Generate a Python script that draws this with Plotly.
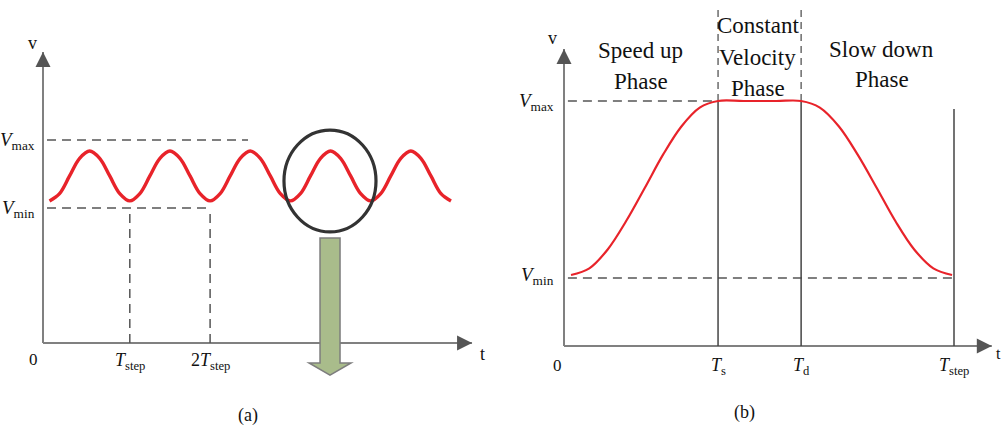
import plotly.graph_objects as go

W, H = 1003, 431

# ---------------- data: panel (a) ----------------
# time in units of T_step, velocity in units of V_max
a_t = [0.000, 0.125, 0.250, 0.375, 0.500, 0.625, 0.750, 0.875,
       1.000, 1.125, 1.250, 1.375, 1.500, 1.625, 1.750, 1.875,
       2.000, 2.125, 2.250, 2.375, 2.500, 2.625, 2.750, 2.875,
       3.000, 3.125, 3.250, 3.375, 3.500, 3.625, 3.750, 3.875,
       4.000, 4.125, 4.250, 4.375, 4.500, 4.625, 4.750, 4.875,
       5.000]
a_v = [0.700, 0.736, 0.823, 0.910, 0.946, 0.910, 0.823, 0.736,
       0.700, 0.736, 0.823, 0.910, 0.946, 0.910, 0.823, 0.736,
       0.700, 0.736, 0.823, 0.910, 0.946, 0.910, 0.823, 0.736,
       0.700, 0.736, 0.823, 0.910, 0.946, 0.910, 0.823, 0.736,
       0.700, 0.736, 0.823, 0.910, 0.946, 0.910, 0.823, 0.736,
       0.700]
a_vmax = 1.0
a_vmin = 0.665
a_tick_t = [1, 2]
a_tick_text = ["<i>T</i><sub>step</sub>", "2<i>T</i><sub>step</sub>"]
a_vmax_text = "<i>V</i><sub>max</sub>"
a_vmin_text = "<i>V</i><sub>min</sub>"

# ---------------- data: panel (b) ----------------
# time in units of T_step, velocity in units of V_max
b_t = [0.018, 0.065, 0.112, 0.159, 0.207, 0.254, 0.301, 0.348, 0.395,
       0.460, 0.545,
       0.608, 0.656, 0.705, 0.753, 0.802, 0.850, 0.898, 0.947, 0.995]
b_v = [0.290, 0.317, 0.394, 0.509, 0.645, 0.781, 0.896, 0.973, 1.000,
       1.000, 1.000,
       1.000, 0.973, 0.896, 0.781, 0.645, 0.509, 0.394, 0.317, 0.290]
b_vmax = 1.0
b_vmin = 0.278
b_ts, b_td, b_tstep = 0.395, 0.608, 1.0
b_tick_t = [b_ts, b_td, b_tstep]
b_tick_text = ["<i>T</i><sub>s</sub>", "<i>T</i><sub>d</sub>", "<i>T</i><sub>step</sub>"]
b_phase_lines = [
    (0.197, ["Speed up", "Phase"], [1.208, 1.078]),
    (0.497, ["Constant", "Velocity", "Phase"], [1.310, 1.176, 1.053]),
    (0.815, ["Slow down", "Phase"], [1.212, 1.086]),
]

# ---------------- layout geometry (pixel anchors) ----------------
SPLIT = 500
A_X0, A_XS, A_Y0, A_YS = 49.5, 80.3, 343.0, 203.0
B_X0, B_XS, B_Y0, B_YS = 564.0, 390.0, 346.0, 245.0

a_xr = [(0 - A_X0) / A_XS, (SPLIT - A_X0) / A_XS]
a_yr = [(A_Y0 - H) / A_YS, A_Y0 / A_YS]
b_xr = [(SPLIT - B_X0) / B_XS, (W - B_X0) / B_XS]
b_yr = [(B_Y0 - H) / B_YS, B_Y0 / B_YS]

RED = "#e8232a"
AXC = "#808080"
DASHC = "#555555"
SERIF = "Liberation Serif, Times New Roman, serif"
TXT = "#111111"

fig = go.Figure()


def line(x, y, xa, ya, color, width, dash=None):
    fig.add_trace(go.Scatter(x=x, y=y, xaxis=xa, yaxis=ya, mode="lines",
                             line=dict(color=color, width=width, dash=dash),
                             hoverinfo="skip", showlegend=False))


annotations = []


def text(x, y, s, xa, ya, size=18, xanchor="center", yanchor="middle",
         xshift=0, yshift=0):
    annotations.append(dict(x=x, y=y, xref=xa, yref=ya, text=s, showarrow=False,
                            xanchor=xanchor, yanchor=yanchor, xshift=xshift,
                            yshift=yshift,
                            font=dict(family=SERIF, size=size, color=TXT)))


def head(x, y, xa, ya, ax, ay):
    annotations.append(dict(x=x, y=y, xref=xa, yref=ya, text="", showarrow=True,
                            ax=ax, ay=ay, arrowhead=2, arrowsize=1.5,
                            arrowwidth=2, arrowcolor="#555555", standoff=0,
                            font=dict(family=SERIF, size=12)))


# ================= panel (a) =================
a_ax_t = -0.081
a_tip_t = 5.262
a_tip_v = 1.433
line([a_ax_t, a_ax_t], [0, a_tip_v], "x", "y", AXC, 2)
line([a_ax_t, a_tip_t], [0, 0], "x", "y", AXC, 2)
head(a_ax_t, a_tip_v, "x", "y", 0, 12)
head(a_tip_t, 0, "x", "y", -12, 0)

line([-0.031, 2.472], [a_vmax, a_vmax], "x", "y", DASHC, 1.5, "9px,6px")
line([-0.031, a_tick_t[1]], [a_vmin, a_vmin], "x", "y", DASHC, 1.5, "9px,6px")
for tt in a_tick_t:
    line([tt, tt], [0, a_vmin], "x", "y", DASHC, 1.5, "9px,6px")

fig.add_trace(go.Scatter(x=a_t, y=a_v, xaxis="x", yaxis="y", mode="lines",
                         line=dict(color=RED, width=3.4, shape="spline", smoothing=1),
                         hoverinfo="skip", showlegend=False))

text(a_ax_t, 0, "0", "x", "y", 17, xanchor="right", yanchor="top", xshift=-3, yshift=-5)
for tt, s in zip(a_tick_t, a_tick_text):
    text(tt, 0, s, "x", "y", 18, yanchor="top", yshift=-5)
text(a_ax_t, a_vmax, a_vmax_text, "x", "y", 19, xanchor="right", xshift=-6, yshift=-1)
text(a_ax_t, a_vmin, a_vmin_text, "x", "y", 19, xanchor="right", xshift=-6, yshift=-1)
text(a_ax_t, a_tip_v, "v", "x", "y", 18, yshift=9, xshift=-11)
text(a_tip_t, 0, "t", "x", "y", 18, xanchor="left", xshift=6, yshift=-11)
text(2.47, -0.355, "(a)", "x", "y", 18)

shapes = []
# magnifier circle
shapes.append(dict(type="circle", xref="x", yref="y", x0=2.920, x1=4.066,
                   y0=0.547, y1=1.049, line=dict(color="#333333", width=3.2)))
# green down arrow
arrow_path = ("M 3.369 0.517 L 3.618 0.517 L 3.618 -0.0985 L 3.755 -0.0985 "
              "L 3.493 -0.158 L 3.232 -0.0985 L 3.369 -0.0985 Z")
shapes.append(dict(type="path", xref="x", yref="y", path=arrow_path,
                   fillcolor="#a9bc8b", line=dict(color="#7d7d7d", width=1.5)))

# ================= panel (b) =================
b_tip_t = 1.097
b_tip_v = 1.212
line([0, 0], [0, b_tip_v], "x2", "y2", AXC, 2)
line([0, b_tip_t], [0, 0], "x2", "y2", AXC, 2)
head(0, b_tip_v, "x2", "y2", 0, 12)
head(b_tip_t, 0, "x2", "y2", -12, 0)

line([0.010, b_ts], [b_vmax, b_vmax], "x2", "y2", DASHC, 1.5, "9px,6px")
line([0.010, 0.995], [b_vmin, b_vmin], "x2", "y2", DASHC, 1.5, "9px,6px")
line([b_ts, b_ts], [0, b_vmax], "x2", "y2", "#444444", 1.5)
line([b_td, b_td], [0, b_vmax], "x2", "y2", "#444444", 1.5)
line([b_tstep, b_tstep], [0, 0.967], "x2", "y2", "#444444", 1.5)
line([b_ts, b_ts], [b_vmax, 1.371], "x2", "y2", DASHC, 1.3, "7px,5px")
line([b_td, b_td], [b_vmax, 1.371], "x2", "y2", DASHC, 1.3, "7px,5px")

fig.add_trace(go.Scatter(x=b_t, y=b_v, xaxis="x2", yaxis="y2", mode="lines",
                         line=dict(color=RED, width=2.2, shape="spline", smoothing=1),
                         hoverinfo="skip", showlegend=False))

text(0, 0, "0", "x2", "y2", 17, xanchor="right", yanchor="top", xshift=0, yshift=-8)
for tt, s in zip(b_tick_t, b_tick_text):
    text(tt, 0, s, "x2", "y2", 18, yanchor="top", yshift=-7)
text(0, b_vmax, "<i>V</i><sub>max</sub>", "x2", "y2", 19, xanchor="right", xshift=-8, yshift=-1)
text(0, b_vmin, "<i>V</i><sub>min</sub>", "x2", "y2", 19, xanchor="right", xshift=-8, yshift=2)
text(0, b_tip_v, "v", "x2", "y2", 18, yshift=11, xshift=-12)
text(b_tip_t, 0, "t", "x2", "y2", 16, xanchor="left", xshift=2, yshift=-7)
text(0.464, -0.273, "(b)", "x2", "y2", 18)

for tc, words, vs in b_phase_lines:
    for w, vv in zip(words, vs):
        text(tc, vv, w, "x2", "y2", 23)

axis_common = dict(visible=False, fixedrange=True)
fig.update_layout(
    width=W, height=H,
    margin=dict(l=0, r=0, t=0, b=0, pad=0),
    paper_bgcolor="white", plot_bgcolor="white",
    showlegend=False,
    font=dict(family=SERIF, size=18, color=TXT),
    xaxis=dict(domain=[0, SPLIT / W], range=a_xr, anchor="y", **axis_common),
    yaxis=dict(domain=[0, 1], range=a_yr, anchor="x", **axis_common),
    xaxis2=dict(domain=[SPLIT / W, 1], range=b_xr, anchor="y2", **axis_common),
    yaxis2=dict(domain=[0, 1], range=b_yr, anchor="x2", **axis_common),
    shapes=shapes,
    annotations=annotations,
)

fig.write_html(
    "out.html",
    config={"displayModeBar": False, "staticPlot": True},
    post_script="document.body.style.margin='0';document.body.style.overflow='hidden';",
)
